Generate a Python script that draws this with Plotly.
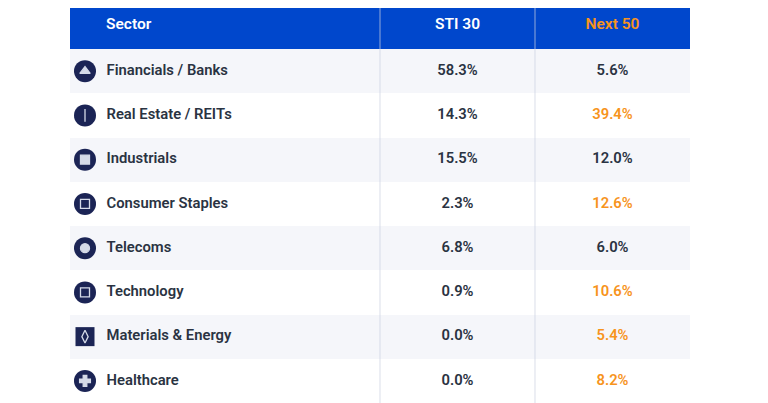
import plotly.graph_objects as go

# table data
sectors = ["Financials / Banks", "Real Estate / REITs", "Industrials", "Consumer Staples",
           "Telecoms", "Technology", "Materials & Energy", "Healthcare"]
sti30 = [58.3, 14.3, 15.5, 2.3, 6.8, 0.9, 0.0, 0.0]
next50 = [5.6, 39.4, 12.0, 12.6, 6.0, 10.6, 5.4, 8.2]
headers = ["Sector", "STI 30", "Next 50"]

# icon look per sector (outer badge, inner glyph)
badge = ["circle", "circle", "circle", "circle", "circle", "circle", "square", "circle"]
glyph = ["triangle-up", "line-ns", "square", "square-open", "circle", "square-open",
         "diamond-tall-open", "cross"]

BLUE = "#0047CC"
NAVY = "#1B2455"
INK = "#2A3342"
ORANGE = "#F7941D"
STRIPE = "#F5F6FA"

W, H = 768, 403
PAGE_PAD = 8  # browser body margin, figure is drawn offset by this
col_edges = [70, 380, 535, 690]
TOP = 1
HEADER_H = 48
ROW_H = 44.25

n = len(sectors)
row_y = [TOP + HEADER_H + (i + 0.5) * ROW_H for i in range(n)]
col_mid = [(col_edges[k] + col_edges[k + 1]) / 2 for k in range(3)]
tbl_w = col_edges[-1] - col_edges[0]

fig = go.Figure()

# header + striped rows
fig.add_trace(go.Bar(orientation="h", y=[TOP + HEADER_H / 2], x=[tbl_w], base=col_edges[0],
                     width=HEADER_H, marker=dict(color=BLUE, line=dict(width=0)),
                     hoverinfo="skip"))
fig.add_trace(go.Bar(orientation="h", y=row_y, x=[tbl_w] * n, base=col_edges[0],
                     width=ROW_H,
                     marker=dict(color=[STRIPE if i % 2 == 0 else "white" for i in range(n)],
                                 line=dict(width=0)),
                     hoverinfo="skip"))

# column dividers
lx, ly = [], []
for x in col_edges[1:-1]:
    lx += [x, x, None]
    ly += [0, H, None]
fig.add_trace(go.Scatter(x=lx, y=ly, mode="lines",
                         line=dict(color="rgba(205,210,225,0.6)", width=1.2),
                         hoverinfo="skip"))

# icons
icon_x = col_edges[0] + 15
fig.add_trace(go.Scatter(x=[icon_x] * n, y=row_y, mode="markers",
                         marker=dict(symbol=badge,
                                     size=[19 if b == "square" else 22 for b in badge],
                                     color=NAVY, opacity=1, line=dict(width=0)),
                         hoverinfo="skip"))
fig.add_trace(go.Scatter(x=[icon_x] * n, y=row_y, mode="markers",
                         marker=dict(symbol=glyph, size=9, color="#D5DAE8",
                                     line=dict(color="#D5DAE8", width=1.3)),
                         hoverinfo="skip"))

font = dict(family="Roboto", size=14.8, weight=600)

# header text
fig.add_trace(go.Scatter(x=[col_edges[0] + 36, col_mid[1], col_mid[2]],
                         y=[25] * 3,
                         mode="text", text=headers,
                         textposition=["middle right", "middle center", "middle center"],
                         textfont=dict(font, size=15.5, color=["white", "white", ORANGE]),
                         hoverinfo="skip"))

# body text
fig.add_trace(go.Scatter(x=[col_edges[0] + 36.5] * n, y=row_y, mode="text", text=sectors,
                         textposition="middle right", textfont=dict(font, color=INK),
                         hoverinfo="skip"))
fig.add_trace(go.Scatter(x=[col_mid[1]] * n, y=row_y, mode="text",
                         text=[f"{v:.1f}%" for v in sti30],
                         textposition="middle center", textfont=dict(font, color=INK),
                         hoverinfo="skip"))
fig.add_trace(go.Scatter(x=[col_mid[2]] * n, y=row_y, mode="text",
                         text=[f"{v:.1f}%" for v in next50],
                         textposition="middle center",
                         textfont=dict(font, color=[ORANGE if b > a else INK
                                                    for a, b in zip(sti30, next50)]),
                         hoverinfo="skip"))

axis = dict(showgrid=False, zeroline=False, showticklabels=False, showline=False,
            fixedrange=True)
fig.update_layout(width=W - PAGE_PAD, height=H - PAGE_PAD,
                  margin=dict(l=0, r=0, t=0, b=0),
                  paper_bgcolor="white", plot_bgcolor="white",
                  showlegend=False, barmode="overlay", bargap=0,
                  xaxis=dict(axis, range=[PAGE_PAD, W]),
                  yaxis=dict(axis, range=[H, PAGE_PAD]))

fig.write_html("out.html")
